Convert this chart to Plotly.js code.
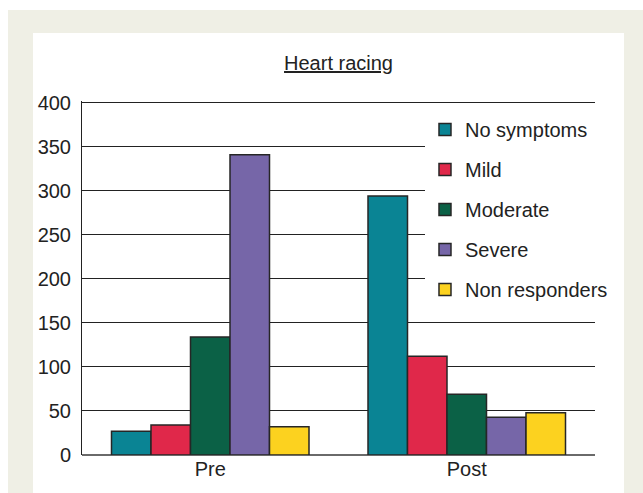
<!DOCTYPE html>
<html>
<head>
<meta charset="utf-8">
<script src="https://cdn.plot.ly/plotly-3.0.1.min.js"></script>
<style>
  html, body { margin: 0; padding: 0; background: #ffffff; }
  #chart { width: 643px; height: 493px; }
</style>
</head>
<body>
<div id="chart"></div>
<script>
const categories = ["Pre", "Post"];
const seriesNames = ["No symptoms", "Mild", "Moderate", "Severe", "Non responders"];
const noSymptoms = [27, 294];
const mild = [34, 112];
const moderate = [134, 69];
const severe = [341, 43];
const nonResponders = [32, 48];
const yTicks = [0, 50, 100, 150, 200, 250, 300, 350, 400];

const seriesValues = [noSymptoms, mild, moderate, severe, nonResponders];
const colors = ["#0a8494", "#e0284a", "#0b6146", "#7666a8", "#fcd21f"];

const traces = seriesNames.map((name, i) => ({
  type: "bar",
  name: name,
  x: categories,
  y: seriesValues[i],
  legendgroup: "g" + i,
  marker: { color: colors[i], line: { color: "#262626", width: 1.5 } },
  hoverinfo: "x+y+name"
}));

const font = { family: "Liberation Sans, Arial, sans-serif", size: 20, color: "#222222" };

// plot area: x 82..595, y(0)=455, y(400)=~103
const T = 101, B = 38, L = 82, R = 48;
const plotH = 493 - T - B;
const px2py = py => (493 - B - py) / plotH;

const layout = {
  width: 643,
  height: 493,
  margin: { l: L, r: R, t: T, b: B, pad: 0 },
  paper_bgcolor: "#ffffff",
  plot_bgcolor: "rgba(0,0,0,0)",
  font: font,
  barmode: "group",
  bargap: 0.23,
  bargroupgap: 0,
  title: {
    text: '<span style="text-decoration:underline">Heart racing</span>',
    font: { family: font.family, size: 20, color: "#222222" },
    x: 0.5, xref: "paper", xanchor: "center",
    y: 1 - 63 / 493, yref: "container", yanchor: "middle"
  },
  xaxis: {
    type: "category",
    showline: false,
    showgrid: false,
    ticks: "",
    tickfont: font,
    zeroline: false,
    fixedrange: true
  },
  yaxis: {
    range: [0, 402],
    tickvals: yTicks,
    ticktext: yTicks.map(String),
    showline: true,
    linecolor: "#222222",
    linewidth: 1,
    showgrid: true,
    gridcolor: "#222222",
    gridwidth: 1,
    zeroline: true,
    zerolinecolor: "#6a6a6a",
    zerolinewidth: 2,
    ticks: "",
    ticklabelstandoff: 6,
    tickfont: font,
    fixedrange: true
  },
  legend: {
    x: 0.6686, xanchor: "left",
    y: px2py(110), yanchor: "top",
    bgcolor: "#ffffff",
    borderwidth: 0,
    font: font,
    traceorder: "grouped",
    tracegroupgap: 11,
    itemwidth: 30
  },
  shapes: [
    { type: "rect", xref: "paper", yref: "paper", layer: "below",
      x0: (8 - L) / 513, x1: (643 - L) / 513, y0: px2py(493), y1: px2py(10),
      fillcolor: "#efefe5", line: { width: 0 } },
    { type: "rect", xref: "paper", yref: "paper", layer: "below",
      x0: (33 - L) / 513, x1: (624 - L) / 513, y0: px2py(493), y1: px2py(33),
      fillcolor: "#ffffff", line: { width: 0 } }
  ],
  showlegend: true
};

Plotly.newPlot("chart", traces, layout, { displayModeBar: false, staticPlot: true });
</script>
</body>
</html>
